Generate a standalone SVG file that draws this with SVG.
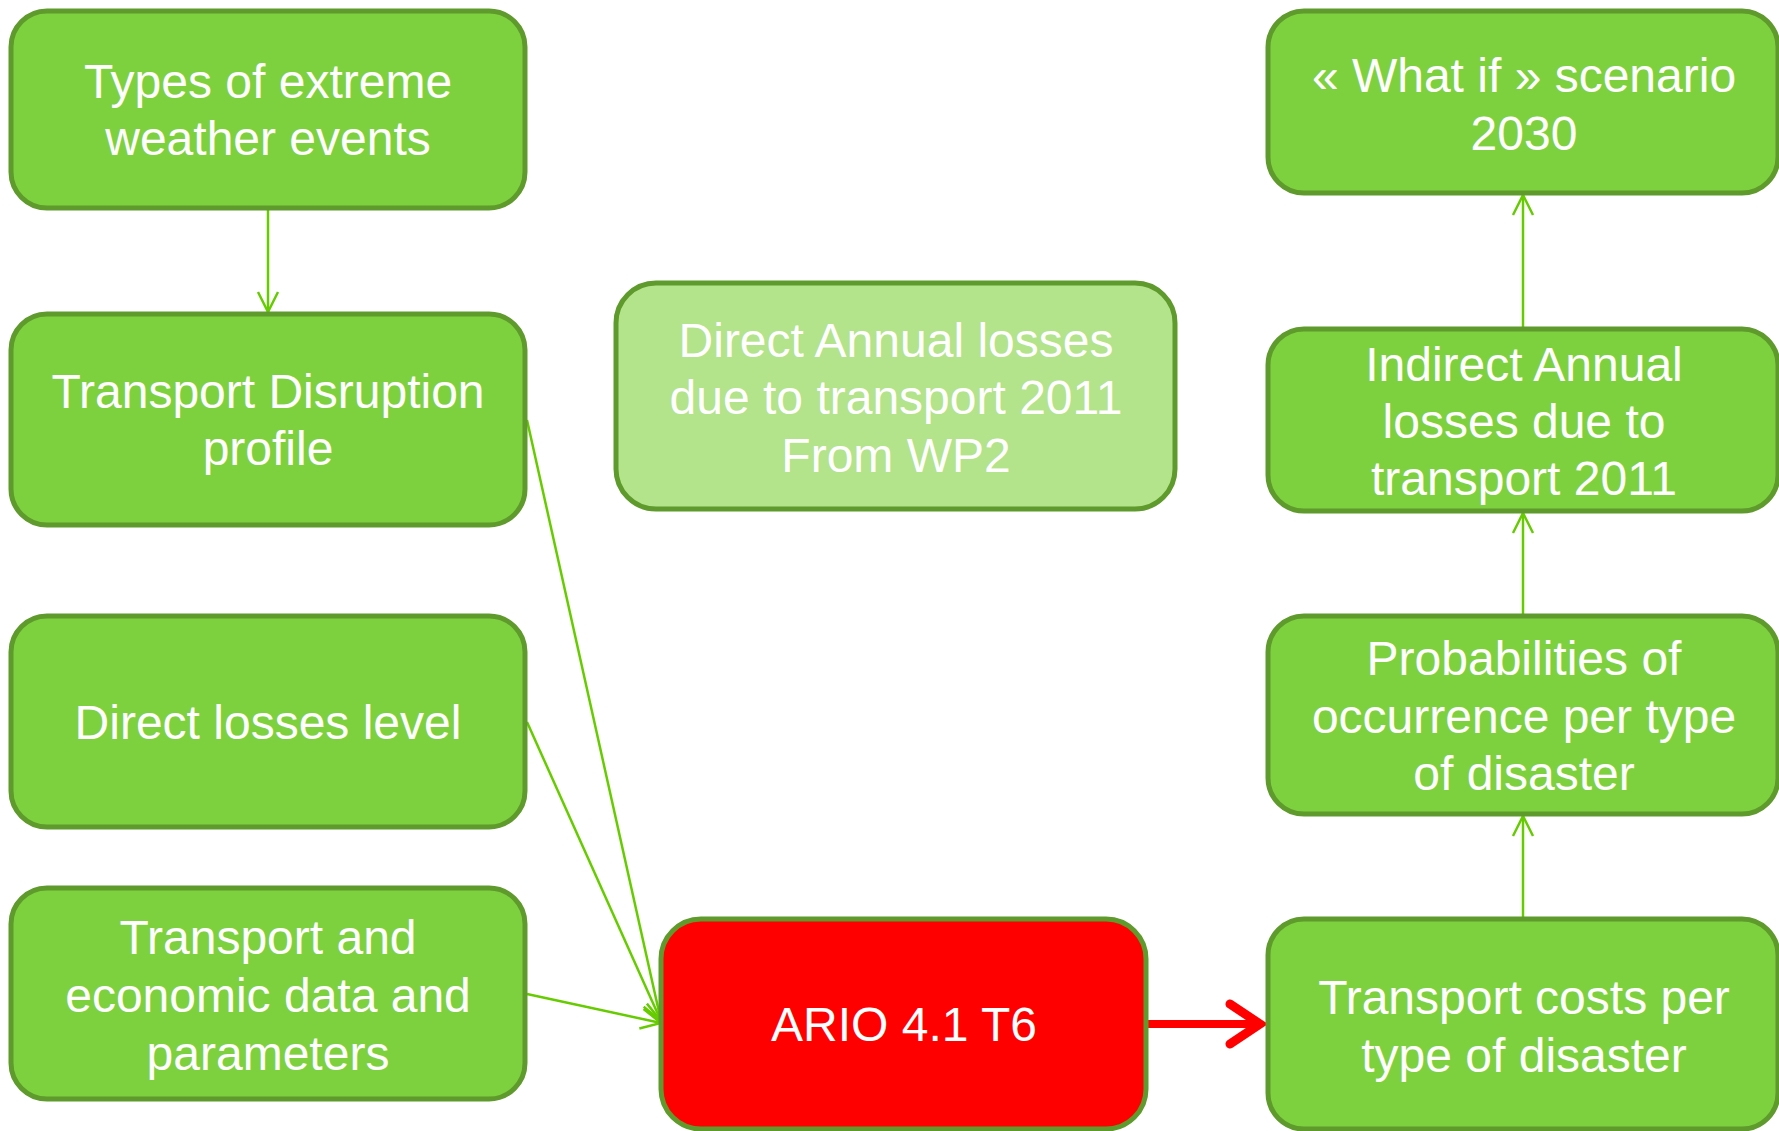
<svg xmlns="http://www.w3.org/2000/svg" width="1779" height="1131" viewBox="0 0 1779 1131">
<style>
.box{fill:#7ed13e;stroke:#5f9a2c;stroke-width:5}
.light{fill:#b3e38a;stroke:#5f9a2c;stroke-width:5}
.red{fill:#ff0000;stroke:#5f9a2c;stroke-width:5}
text{font-family:"Liberation Sans",Arial,sans-serif;font-size:48px;fill:#ffffff;text-anchor:middle}
.conn{fill:none;stroke:#66cc00;stroke-width:2.5}
.rconn{fill:none;stroke:#ff0000;stroke-width:8}
</style>
<defs>
<marker id="ag" markerUnits="userSpaceOnUse" markerWidth="30" markerHeight="30" refX="0" refY="0" orient="auto" overflow="visible">
<path d="M-20,-10 L0,0 L-20,10" fill="none" stroke="#66cc00" stroke-width="2.5"/>
</marker>
<marker id="ar" markerUnits="userSpaceOnUse" markerWidth="60" markerHeight="60" refX="0" refY="0" orient="auto" overflow="visible">
<path d="M-32,-20 L-2,0 L-32,20" fill="none" stroke="#ff0000" stroke-width="9" stroke-linecap="round" stroke-linejoin="miter"/>
</marker>
</defs>
<rect width="1779" height="1131" fill="#ffffff"/>
<g id="connectors">
<line class="conn" x1="268" y1="208" x2="268" y2="312" marker-end="url(#ag)"/>
<line class="conn" x1="1523" y1="329" x2="1523" y2="195" marker-end="url(#ag)"/>
<line class="conn" x1="1523" y1="616" x2="1523" y2="513" marker-end="url(#ag)"/>
<line class="conn" x1="1523" y1="919" x2="1523" y2="816" marker-end="url(#ag)"/>
<line class="conn" x1="527" y1="420" x2="661" y2="1021" marker-end="url(#ag)"/>
<line class="conn" x1="527" y1="722" x2="661" y2="1021" marker-end="url(#ag)"/>
<line class="conn" x1="527" y1="994" x2="661" y2="1023" marker-end="url(#ag)"/>
<line class="rconn" x1="1148" y1="1024" x2="1262" y2="1024" marker-end="url(#ar)"/>
</g>
<g id="n1">
<rect class="box" x="11" y="11" width="514" height="197" rx="36"/>
<text x="268" y="98">Types of extreme</text>
<text x="268" y="155">weather events</text>
</g>
<g id="n2">
<rect class="box" x="11" y="314" width="514" height="211" rx="36"/>
<text x="268" y="408">Transport Disruption</text>
<text x="268" y="465">profile</text>
</g>
<g id="n3">
<rect class="box" x="11" y="616" width="514" height="211" rx="36"/>
<text x="268" y="739">Direct losses level</text>
</g>
<g id="n4">
<rect class="box" x="11" y="888" width="514" height="211" rx="36"/>
<text x="268" y="954">Transport and</text>
<text x="268" y="1012">economic data and</text>
<text x="268" y="1070">parameters</text>
</g>
<g id="n5">
<rect class="light" x="616" y="283" width="559" height="226" rx="40"/>
<text x="896" y="357">Direct Annual losses</text>
<text x="896" y="414">due to transport 2011</text>
<text x="896" y="472">From WP2</text>
</g>
<g id="n6">
<rect class="red" x="661" y="919" width="485" height="210" rx="40"/>
<text x="904" y="1041">ARIO 4.1 T6</text>
</g>
<g id="n7">
<rect class="box" x="1268" y="11" width="510" height="182" rx="36"/>
<text x="1524" y="92">« What if » scenario</text>
<text x="1524" y="150">2030</text>
</g>
<g id="n8">
<rect class="box" x="1268" y="329" width="510" height="182" rx="36"/>
<text x="1524" y="381">Indirect Annual</text>
<text x="1524" y="438">losses due to</text>
<text x="1524" y="495">transport 2011</text>
</g>
<g id="n9">
<rect class="box" x="1268" y="616" width="510" height="198" rx="36"/>
<text x="1524" y="675">Probabilities of</text>
<text x="1524" y="733">occurrence per type</text>
<text x="1524" y="790">of disaster</text>
</g>
<g id="n10">
<rect class="box" x="1268" y="919" width="510" height="210" rx="36"/>
<text x="1524" y="1014">Transport costs per</text>
<text x="1524" y="1072">type of disaster</text>
</g>
</svg>
